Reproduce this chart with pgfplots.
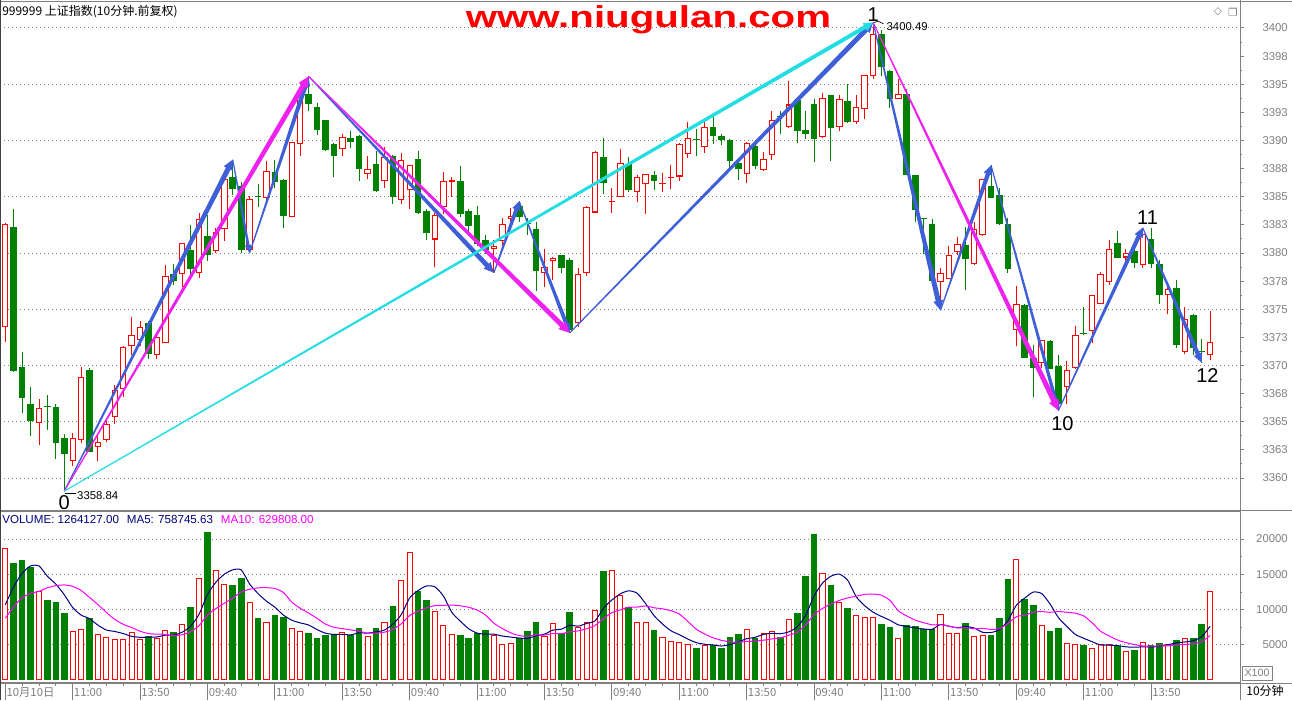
\documentclass[border=0pt]{standalone}
\usepackage{pgfplots}
\pgfplotsset{compat=1.18}
\usepackage{pgfplotstable}
\usetikzlibrary{calc}
\usepackage{fontspec}
\setmainfont{Liberation Sans}
\newfontfamily\cjk{Noto Sans CJK SC}
\newfontfamily\symfont{DejaVu Sans}
\newfontfamily\wmfont[FakeStretch=1.33]{Liberation Sans}

\definecolor{upred}{RGB}{255,0,0}
\definecolor{dngreen}{RGB}{0,128,0}
\definecolor{arrowblue}{RGB}{62,95,215}
\definecolor{arrowmag}{RGB}{238,34,238}
\definecolor{arrowcyan}{RGB}{34,221,226}
\definecolor{gridgray}{RGB}{128,128,128}
\definecolor{navyblue}{RGB}{0,0,128}
\definecolor{ma10col}{RGB}{255,0,255}

% 10-minute bars: index, open, high, low, close, volume (x1000), MA5, MA10 of volume
\pgfplotstableread{
i o h l c v m5 m10
0 3373.4 3382.7 3372.1 3382.6 18.69 10.70 8.80
1 3382.3 3383.9 3369.4 3369.5 16.65 13.25 10.40
2 3369.9 3371.2 3365.8 3367.1 17.03 15.15 11.70
3 3366.6 3368.1 3363.7 3365.1 16.04 16.20 12.30
4 3364.9 3367.0 3362.9 3366.2 12.65 16.19 12.60
5 3366.35 3367.4 3364.3 3366.3 11.37 14.73 13.10
6 3366.3 3366.6 3361.7 3363.1 11.09 13.62 13.40
7 3363.6 3363.9 3358.84 3362.1 9.53 12.12 13.50
8 3361.5 3364.0 3361.1 3363.6 6.94 10.30 13.30
9 3363.4 3369.9 3363.1 3369.0 7.27 9.24 12.72
10 3369.6 3369.8 3362.3 3362.35 8.82 8.72 11.73
11 3362.8 3363.7 3361.5 3363.2 6.51 7.80 10.71
12 3363.4 3365.1 3363.2 3364.8 6.09 7.12 9.62
13 3365.4 3368.3 3364.8 3367.8 5.85 6.91 8.61
14 3367.9 3371.7 3367.2 3371.65 5.85 6.62 7.93
15 3371.7 3374.3 3370.9 3372.7 6.80 6.22 7.47
16 3372.3 3374.0 3371.7 3373.4 5.85 6.09 6.95
17 3373.8 3374.0 3370.6 3371.0 6.23 6.11 6.62
18 3370.9 3372.6 3370.6 3372.55 5.99 6.14 6.53
19 3372.0 3378.9 3372.0 3378.0 7.12 6.39 6.51
20 3378.1 3379.0 3377.2 3377.5 6.79 6.39 6.31
21 3378.1 3380.9 3377.0 3380.85 7.97 6.82 6.46
22 3380.3 3382.5 3378.0 3378.6 10.43 7.66 6.89
23 3378.2 3383.6 3377.75 3383.0 14.49 9.36 7.75
24 3381.5 3383.4 3379.3 3379.8 21.00 12.14 9.27
25 3380.2 3382.2 3380.0 3381.9 15.58 13.90 10.15
26 3382.1 3387.1 3381.1 3386.6 13.64 15.02 10.92
27 3386.8 3388.3 3385.2 3385.7 13.50 15.64 11.65
28 3386.0 3386.3 3380.0 3380.3 14.49 15.64 12.50
29 3380.3 3385.1 3380.0 3384.8 11.04 13.64 12.89
30 3385.05 3386.1 3384.1 3385.0 8.82 12.28 13.09
31 3384.9 3388.2 3384.7 3387.3 8.21 11.20 13.11
32 3387.2 3388.3 3385.8 3386.3 9.25 10.35 13.00
33 3386.5 3386.6 3382.2 3383.3 8.96 9.24 12.44
34 3383.2 3389.9 3383.2 3389.85 7.36 8.51 11.08
35 3389.7 3394.5 3388.65 3394.3 6.94 8.13 10.21
36 3394.1 3395.7 3392.65 3393.2 6.70 7.83 9.52
37 3393.0 3393.3 3390.5 3390.9 5.99 7.18 8.77
38 3391.8 3391.85 3389.1 3389.15 6.42 6.67 7.96
39 3389.7 3389.75 3386.8 3388.6 6.51 6.50 7.51
40 3389.2 3390.6 3388.6 3390.3 6.89 6.50 7.32
41 3390.2 3390.8 3389.3 3389.9 6.42 6.44 7.14
42 3390.4 3390.5 3386.4 3387.5 7.41 6.72 6.95
43 3387.0 3388.6 3386.55 3387.5 6.23 6.68 6.68
44 3387.9 3389.1 3385.45 3385.5 7.41 6.86 6.68
45 3386.4 3389.4 3385.8 3388.5 8.21 7.12 6.81
46 3388.6 3388.7 3384.4 3385.0 10.52 7.94 7.19
47 3384.7 3388.9 3384.4 3388.3 14.16 9.30 8.01
48 3385.6 3387.85 3383.9 3387.8 18.13 11.68 9.18
49 3388.4 3389.1 3383.5 3383.55 12.65 12.72 9.79
50 3383.7 3383.9 3381.2 3381.75 11.37 13.36 10.24
51 3381.2 3383.6 3378.8 3383.4 9.81 13.22 10.58
52 3384.1 3387.2 3383.5 3386.4 7.79 11.94 10.62
53 3386.3 3386.8 3385.0 3386.5 6.51 9.62 10.65
54 3386.4 3387.7 3383.2 3383.5 6.42 8.38 10.55
55 3383.7 3383.9 3382.0 3382.4 5.99 7.30 10.33
56 3383.4 3384.2 3380.6 3380.8 6.70 6.68 9.95
57 3381.2 3381.6 3379.9 3380.3 7.12 6.54 9.24
58 3380.4 3381.2 3378.25 3380.65 6.46 6.53 8.08
59 3381.1 3383.1 3380.6 3382.6 5.10 6.27 7.33
60 3383.0 3384.0 3382.6 3383.3 5.24 6.12 6.71
61 3384.2 3384.6 3382.8 3383.2 5.99 5.98 6.33
62 3382.7 3383.1 3381.6 3382.6 6.94 5.94 6.24
63 3382.1 3382.8 3376.65 3378.4 8.26 6.30 6.42
64 3378.2 3380.4 3377.0 3378.8 6.28 6.54 6.41
65 3379.3 3379.65 3377.6 3379.6 8.07 7.11 6.62
66 3379.8 3379.85 3378.2 3378.7 6.65 7.24 6.61
67 3379.4 3379.6 3372.9 3373.2 9.67 7.80 6.87
68 3373.75 3378.7 3373.4 3378.1 7.60 7.67 6.99
69 3378.2 3384.2 3378.0 3384.1 8.21 8.05 7.30
70 3383.6 3389.1 3383.6 3388.95 9.96 8.42 7.77
71 3388.5 3390.25 3385.25 3386.2 15.48 10.19 8.72
72 3384.5 3385.8 3383.6 3384.6 15.58 11.37 9.59
73 3385.0 3389.2 3385.0 3388.0 12.03 12.25 9.96
74 3387.9 3388.5 3385.4 3385.6 10.33 12.67 10.36
75 3385.4 3386.9 3384.5 3386.8 8.21 12.32 10.37
76 3386.1 3387.05 3383.5 3387.0 8.21 10.86 10.53
77 3386.9 3387.3 3385.6 3386.4 7.12 9.16 10.27
78 3386.1 3387.1 3385.4 3386.2 6.09 7.98 10.12
79 3386.7 3387.8 3385.7 3386.8 5.52 7.02 9.85
80 3386.8 3389.75 3386.4 3389.7 5.38 6.46 9.39
81 3388.8 3391.6 3388.4 3390.2 5.10 5.84 8.35
82 3390.1 3391.0 3388.6 3390.0 4.62 5.34 7.25
83 3389.4 3391.6 3388.9 3391.2 4.95 5.11 6.55
84 3391.2 3392.1 3389.7 3390.4 5.00 5.01 6.02
85 3390.4 3390.6 3389.6 3390.0 4.62 4.85 5.66
86 3390.0 3390.1 3387.5 3388.2 6.13 5.05 5.45
87 3388.0 3388.4 3386.5 3387.5 6.56 5.44 5.39
88 3387.0 3389.9 3386.25 3389.75 7.22 5.89 5.50
89 3389.5 3390.0 3387.5 3387.7 6.04 6.09 5.55
90 3387.4 3388.95 3387.3 3388.4 6.65 6.50 5.68
91 3388.7 3392.65 3388.3 3391.8 6.94 6.66 5.86
92 3392.2 3392.65 3390.6 3392.1 6.18 6.59 6.02
93 3391.2 3395.3 3391.15 3393.2 8.63 6.87 6.38
94 3393.6 3393.65 3389.8 3390.8 9.53 7.57 6.83
95 3390.9 3392.65 3390.1 3390.6 14.77 9.20 7.85
96 3393.2 3393.7 3388.1 3390.1 20.72 11.96 9.31
97 3390.3 3394.2 3390.25 3393.8 15.20 13.76 10.18
98 3394.0 3394.05 3388.2 3391.1 13.50 14.74 10.81
99 3391.2 3394.0 3390.8 3393.7 11.04 15.04 11.31
100 3393.5 3395.0 3391.55 3391.6 10.24 14.13 11.67
101 3391.6 3394.0 3391.5 3392.95 9.20 11.83 11.90
102 3392.8 3395.85 3391.9 3395.8 8.92 10.57 12.17
103 3395.7 3400.49 3395.5 3399.5 8.92 9.65 12.20
104 3399.5 3399.8 3395.7 3396.5 7.97 9.04 12.04
105 3396.2 3396.3 3392.9 3393.7 7.55 8.50 11.32
106 3393.7 3395.5 3393.65 3394.1 5.95 7.85 9.84
107 3394.1 3394.6 3386.9 3386.95 7.83 7.64 9.11
108 3386.9 3386.95 3382.8 3383.8 7.69 7.40 8.52
109 3383.1 3383.15 3379.9 3383.0 7.31 7.27 8.16
110 3382.6 3383.0 3377.5 3377.55 7.31 7.22 7.86
111 3377.4 3378.7 3374.9 3378.2 9.35 7.90 7.88
112 3377.7 3380.65 3377.65 3379.8 6.65 7.66 7.65
113 3380.1 3381.4 3379.8 3380.8 6.65 7.45 7.43
114 3380.7 3382.3 3376.7 3379.5 8.11 7.61 7.44
115 3379.0 3382.8 3378.95 3382.1 6.23 7.40 7.31
116 3381.6 3386.6 3381.55 3386.55 6.37 6.80 7.35
117 3386.0 3387.8 3384.85 3384.9 6.42 6.76 7.21
118 3385.2 3385.75 3382.5 3382.55 8.82 7.19 7.32
119 3382.6 3383.1 3378.25 3378.55 14.34 8.44 8.03
120 3373.2 3377.1 3371.7 3375.5 17.13 10.62 9.01
121 3375.4 3375.45 3370.65 3370.7 11.51 11.64 9.22
122 3370.7 3371.8 3367.2 3369.75 10.66 12.49 9.62
123 3370.2 3372.3 3369.75 3372.25 7.79 12.29 9.74
124 3372.2 3372.25 3369.65 3369.7 6.98 10.81 9.63
125 3370.0 3370.9 3366.0 3366.6 7.41 8.87 9.74
126 3368.1 3370.4 3366.6 3369.6 5.24 7.62 9.63
127 3369.75 3373.5 3369.7 3372.7 5.10 6.50 9.50
128 3372.9 3375.2 3372.75 3372.8 5.00 5.95 9.12
129 3373.1 3376.3 3372.0 3376.25 4.57 5.46 8.14
130 3375.5 3378.3 3375.45 3378.1 5.10 5.00 6.94
131 3377.45 3381.2 3377.2 3380.4 5.10 4.97 6.30
132 3380.9 3382.0 3379.55 3379.6 4.81 4.92 5.71
133 3379.6 3380.35 3379.2 3380.0 4.11 4.74 5.34
134 3380.2 3380.25 3378.7 3379.1 4.29 4.68 5.07
135 3378.9 3382.25 3378.7 3381.7 5.38 4.74 4.87
136 3381.25 3382.2 3378.7 3379.0 5.00 4.72 4.85
137 3379.0 3379.4 3375.5 3376.3 5.28 4.81 4.86
138 3376.3 3377.0 3374.55 3376.8 5.14 5.02 4.88
139 3376.9 3377.6 3371.6 3371.8 5.71 5.30 4.99
140 3371.2 3375.2 3371.0 3374.1 5.99 5.42 5.08
141 3374.5 3374.55 3370.9 3371.6 5.99 5.62 5.17
142 3371.25 3372.4 3370.25 3371.2 7.97 6.16 5.49
143 3370.9 3374.85 3370.5 3372.05 12.64 7.66 6.34
}\bars

% tapered arrow between two data points: colour, x1, y1, x2, y2, half width at head base, half head width, head length
\newcommand{\taper}[8]{%
  \coordinate (tA) at (axis cs:#2,#3);
  \coordinate (tB) at (axis cs:#4,#5);
  \coordinate (tH) at ($(tB)!#8!(tA)$);
  \fill[#1] ($(tA)!0.4pt!90:(tB)$) -- ($(tH)!#6!90:(tB)$) -- ($(tH)!#7!90:(tB)$) -- (tB)
     -- ($(tH)!#7!-90:(tB)$) -- ($(tH)!#6!-90:(tB)$) -- ($(tA)!0.4pt!-90:(tB)$) -- cycle;
}

\pgfplotsset{
  kbase/.style={
    scale only axis, width=930pt,
    xmin=-0.629, xmax=146.55,
    clip=false,
    axis line style={draw=gridgray, line width=0.75pt},
    tick style={draw=gridgray, line width=0.75pt},
    tick align=outside,
    major tick length=3pt, minor tick length=1.5pt,
    ytick pos=right, yticklabel pos=right,
    ymajorgrids,
    major grid style={draw=gridgray, line width=0.75pt, dash pattern=on 0.75pt off 2.25pt},
    yticklabel style={font=\fontsize{8.5}{9}\selectfont, text=gridgray, inner sep=0pt, anchor=east, xshift=33pt},
    /pgf/number format/assume math mode=true,
    xtick=\empty,
  },
  % vertical segments only: no marker, no connecting line
  errbody/.style={only marks, mark size=0pt, mark options={draw=none, fill=none}, forget plot,
    error bars/.cd, y dir=plus, y explicit, error mark=none},
  rising/.style={x filter/.expression={\thisrow{c}>\thisrow{o} ? x : nan}},
  falling/.style={x filter/.expression={\thisrow{c}<\thisrow{o} ? x : nan}},
  tallrising/.style={x filter/.expression={\thisrow{c}-\thisrow{o}>0.2 ? x : nan}},
}

\begin{document}
\begin{tikzpicture}
\useasboundingbox (0pt,0pt) rectangle (969pt,525pt);
\fill[white] (0pt,0pt) rectangle (969pt,525pt);

%----------------------------------------------------------- price panel
\begin{axis}[kbase,
  at={(0pt,523.5pt)}, anchor=north west, height=381.75pt,
  ymin=3357.07, ymax=3402.31,
  ytick={3360,3365,...,3400},
  yticklabels={3360,3365,3370,3375,3380,3385,3390,3395,3400},
  extra y ticks={3362.5,3367.5,...,3397.5},
  extra y tick labels={3363,3368,3373,3378,3383,3388,3393,3398},
  extra y tick style={grid=none},
  minor y tick num=3,
]
% wicks
\addplot[rising, errbody, error bar style={line width=0.75pt, upred}]
  table[x=i, y=l, y error expr=\thisrow{h}-\thisrow{l}] {\bars};
\addplot[falling, errbody, error bar style={line width=0.75pt, dngreen}]
  table[x=i, y=l, y error expr=\thisrow{h}-\thisrow{l}] {\bars};
% falling bodies, filled
\addplot[falling, errbody, error bar style={line width=5pt, dngreen}]
  table[x=i, y=c, y error expr={max(\thisrow{o}-\thisrow{c},0.09)}] {\bars};
% rising bodies, hollow
\addplot[rising, errbody, error bar style={line width=4.8pt, upred}]
  table[x=i, y=o, y error expr={max(\thisrow{c}-\thisrow{o},0.09)}] {\bars};
\addplot[tallrising, errbody, error bar style={line width=3.3pt, white}]
  table[x=i, y expr=\thisrow{o}+0.09, y error expr={\thisrow{c}-\thisrow{o}-0.18}] {\bars};

% wave arrows
\taper{arrowblue}{7}{3358.84}{27}{3388.3}{1.9pt}{3.75pt}{7.5pt}
\taper{arrowblue}{27}{3388.3}{29}{3380.0}{1.0pt}{2.6pt}{6pt}
\taper{arrowblue}{29}{3380.0}{36}{3395.7}{1.7pt}{3.5pt}{7pt}
\taper{arrowblue}{36}{3395.7}{58}{3378.25}{1.8pt}{3.6pt}{7.5pt}
\taper{arrowblue}{58}{3378.25}{61}{3384.6}{1.5pt}{3.2pt}{6.5pt}
\taper{arrowblue}{61}{3384.6}{67}{3372.9}{1.5pt}{3.2pt}{7pt}
\taper{arrowblue}{67}{3372.9}{103}{3400.49}{1.9pt}{3.75pt}{7.5pt}
\taper{arrowblue}{103}{3400.49}{111}{3374.9}{1.9pt}{3.75pt}{7.5pt}
\taper{arrowblue}{111}{3374.9}{117}{3387.8}{1.6pt}{3.4pt}{7pt}
\taper{arrowblue}{117}{3387.8}{125}{3366.0}{1.3pt}{3.0pt}{6.5pt}
\taper{arrowblue}{125}{3366.0}{135}{3382.25}{1.6pt}{3.4pt}{7pt}
\taper{arrowblue}{135}{3382.25}{142}{3370.25}{1.6pt}{3.4pt}{7pt}
\taper{arrowmag}{7}{3358.84}{36}{3395.7}{1.9pt}{3.9pt}{8pt}
\taper{arrowmag}{36}{3395.7}{67}{3372.9}{1.9pt}{3.9pt}{8pt}
\taper{arrowmag}{103}{3400.49}{125}{3366.0}{1.9pt}{3.9pt}{8pt}
\taper{arrowcyan}{7}{3358.84}{103}{3400.49}{1.5pt}{3.4pt}{7pt}

% wave labels and extreme values
\node[font=\fontsize{15}{15}\selectfont, inner sep=0pt, anchor=north, yshift=-3.5pt] at (axis cs:7,3358.84) {0};
\node[font=\fontsize{15}{15}\selectfont, inner sep=0pt, anchor=south, yshift=0.5pt] at (axis cs:103,3400.49) {1};
\node[font=\fontsize{15}{15}\selectfont, inner sep=0pt, anchor=north, xshift=3pt, yshift=-4pt] at (axis cs:125,3366.0) {10};
\node[font=\fontsize{15}{15}\selectfont, inner sep=0pt, anchor=south, xshift=3.6pt, yshift=2pt] at (axis cs:135,3382.25) {11};
\node[font=\fontsize{15}{15}\selectfont, inner sep=0pt, anchor=north, xshift=4.3pt, yshift=-4pt] at (axis cs:142,3370.25) {12};
\draw[black, line width=0.5pt] (axis cs:7,3358.84) ++(0.5pt,-1.5pt) -- ++(8pt,0pt);
\node[font=\fontsize{8.5}{9}\selectfont, inner sep=0pt, anchor=west, xshift=9.5pt, yshift=-3.4pt] at (axis cs:7,3358.84) {3358.84};
\draw[black, line width=0.5pt] (axis cs:103,3400.49) ++(0.8pt,0pt) -- ++(3pt,1pt) -- ++(4pt,-2pt);
\node[font=\fontsize{8.5}{9}\selectfont, inner sep=0pt, anchor=west, xshift=10pt, yshift=-3.4pt] at (axis cs:103,3400.49) {3400.49};
\end{axis}

%----------------------------------------------------------- volume panel
\begin{axis}[kbase,
  at={(0pt,141.75pt)}, anchor=north west, height=129pt,
  ymin=-0.382, ymax=23.972,
  ytick={5,10,15,20},
  yticklabels={5000,10000,15000,20000},
  minor y tick num=1,
]
\addplot[falling, errbody, error bar style={line width=5pt, dngreen}]
  table[x=i, y expr=0, y error=v] {\bars};
\addplot[rising, errbody, error bar style={line width=4.6pt, upred}]
  table[x=i, y expr=0, y error=v] {\bars};
\addplot[rising, errbody, error bar style={line width=3.1pt, white}]
  table[x=i, y expr=0.14, y error expr=\thisrow{v}-0.28] {\bars};
\addplot[navyblue, line width=0.75pt, mark=none, smooth, tension=0.4] table[x=i, y=m5] {\bars};
\addplot[ma10col, line width=0.75pt, mark=none, smooth, tension=0.4] table[x=i, y=m10] {\bars};
\end{axis}

%----------------------------------------------------------- time band
\begin{axis}[
  at={(0pt,12.75pt)}, anchor=north west,
  scale only axis, width=930pt, height=12.75pt,
  xmin=-0.629, xmax=146.55, ymin=0, ymax=1,
  clip=false,
  axis line style={draw=none},
  ytick=\empty,
  xtick={0,8,...,136},
  xticklabels={10月10日,11:00,13:50,09:40,11:00,13:50,09:40,11:00,13:50,09:40,11:00,13:50,09:40,11:00,13:50,09:40,11:00,13:50},
  xticklabel style={anchor=west, inner sep=0pt, xshift=0.75pt, yshift=-7.1pt, text=gridgray, font=\cjk\fontsize{8.5}{9}\selectfont},
  minor x tick num=3,
  xtick pos=right, tick align=inside,
  major tick length=2.25pt, minor tick length=2.25pt,
  tick style={draw=gridgray, line width=0.75pt},
  xmajorgrids, major grid style={draw=gridgray, line width=0.75pt},
]
\end{axis}

%----------------------------------------------------------- window frame and captions
\draw[gridgray, line width=0.75pt] (0pt,523.5pt) -- (969pt,523.5pt);
\draw[gridgray, line width=0.75pt] (930pt,0pt) -- (930pt,525pt);
\draw[gridgray, line width=0.75pt] (0pt,141.75pt) -- (969pt,141.75pt);
\draw[gridgray, line width=0.75pt] (0pt,12.75pt) -- (969pt,12.75pt);
\draw[black!75, line width=0.75pt] (0.4pt,0pt) -- (0.4pt,525pt);

\node[anchor=west, inner sep=0pt, font=\cjk\fontsize{9}{10}\selectfont] at (1.5pt,516pt) {999999 上证指数(10分钟.前复权)};
\node[anchor=base, inner sep=0pt, text=upred, font=\wmfont\bfseries\fontsize{22.7}{24}\selectfont] at (486.3pt,504.2pt) {www.niugulan.com};
\node[inner sep=0pt, text=gridgray, font=\symfont\fontsize{8}{8}\selectfont] at (913.5pt,516pt) {◇};
\node[inner sep=0pt, text=gridgray, font=\symfont\fontsize{8}{8}\selectfont] at (924.75pt,516pt) {❐};
\node[anchor=west, inner sep=0pt, font=\fontsize{8.7}{10}\selectfont] at (1.5pt,135pt)
  {\textcolor{navyblue}{VOLUME: 1264127.00\hspace{3.5pt} MA5: 758745.63}\hspace{3.5pt} \textcolor{ma10col}{MA10: 629808.00}};
\node[draw=gridgray, text=gridgray, inner sep=0pt, minimum width=22.5pt, minimum height=10.5pt, font=\fontsize{8}{8}\selectfont] at (942.75pt,20.25pt) {X100};
\node[inner sep=0pt, font=\cjk\fontsize{9}{9}\selectfont] at (948.75pt,6.4pt) {10分钟};
\end{tikzpicture}
\end{document}
